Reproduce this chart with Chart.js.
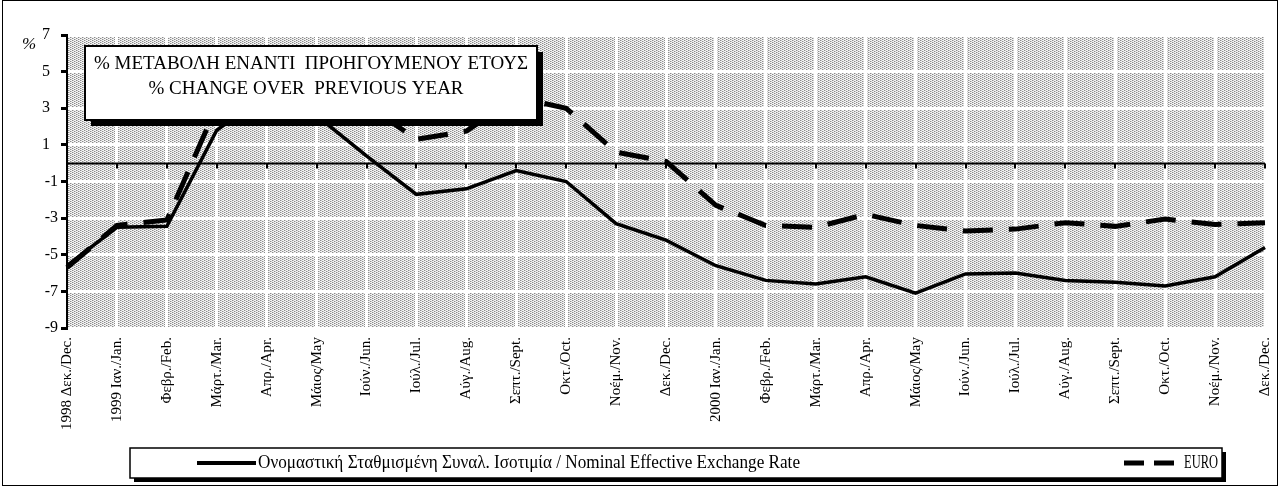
<!DOCTYPE html>
<html>
<head>
<meta charset="utf-8">
<script src="https://cdn.jsdelivr.net/npm/chart.js@4.4.1/dist/chart.umd.min.js"></script>
<style>
  html, body { margin: 0; padding: 0; background: #fff; }
  #wrap { width: 1279px; height: 486px; position: relative; }
</style>
</head>
<body>
<div id="wrap"><canvas id="chart" width="1279" height="486"></canvas></div>
<script>
const monthLabels = [
  "1998 Δεκ./Dec.", "1999 Ιαν./Jan.", "Φεβρ./Feb.", "Μάρτ./Mar.", "Απρ./Apr.", "Μάιος/May",
  "Ιούν./Jun.", "Ιούλ./Jul.", "Αύγ./Aug.", "Σεπτ./Sept.", "Οκτ./Oct.", "Νοέμ./Nov.", "Δεκ./Dec.",
  "2000 Ιαν./Jan.", "Φεβρ./Feb.", "Μάρτ./Mar.", "Απρ./Apr.", "Μάιος/May", "Ιούν./Jun.",
  "Ιούλ./Jul.", "Αύγ./Aug.", "Σεπτ./Sept.", "Οκτ./Οct.", "Νοέμ./Nov.", "Δεκ./Dec.",
];

const nominalRate = [
  -5.6, -3.5, -3.45, 1.8, 3.8, 2.6, 0.4, -1.7, -1.4, -0.4, -1.0, -3.3, -4.2,
  -5.6, -6.4, -6.6, -6.2, -7.1, -6.05, -6.0, -6.4, -6.5, -6.7, -6.2, -4.6,
];

const euroRate = [
  -5.7, -3.4, -3.1, 3.1, 4.4, 4.0, 3.2, 1.3, 1.75, 3.6, 3.0, 0.6, 0.1,
  -2.3, -3.4, -3.5, -2.8, -3.4, -3.7, -3.6, -3.25, -3.45, -3.05, -3.35, -3.25,
];

const yMin = -9;
const yMax = 7;
const yStep = 2;

const titleLines = ["% ΜΕΤΑΒΟΛΗ ΕΝΑΝΤΙ  ΠΡΟΗΓΟΥΜΕΝΟΥ ΕΤΟΥΣ", "% CHANGE OVER  PREVIOUS YEAR"];
const legendNominal = "Ονομαστική Σταθμισμένη Συναλ. Ισοτιμία / Nominal Effective Exchange Rate";
const legendEuro = "EURO";

const serif = "'Liberation Serif', 'DejaVu Serif', serif";

// small staggered dot texture like the printed original
const makePattern = (ctx) => {
  const p = document.createElement("canvas");
  p.width = 4;
  p.height = 2;
  const pc = p.getContext("2d");
  pc.fillStyle = "#f4f4f4";
  pc.fillRect(0, 0, 4, 2);
  pc.fillStyle = "#8c8c8c";
  pc.fillRect(0, 0, 1, 1);
  pc.fillRect(2, 1, 1, 1);
  pc.fillStyle = "#c8c8c8";
  pc.fillRect(1, 0, 1, 1);
  pc.fillRect(3, 1, 1, 1);
  return ctx.createPattern(p, "repeat");
};

const decorations = {
  id: "decorations",
  beforeDraw: (chart) => {
    const { ctx, chartArea: a } = chart;
    ctx.save();
    ctx.fillStyle = "#fff";
    ctx.fillRect(0, 0, chart.width, chart.height);
    ctx.fillStyle = makePattern(ctx);
    ctx.fillRect(a.left, a.top, a.right - a.left, a.bottom - a.top);
    ctx.restore();
  },
  beforeDatasetsDraw: (chart) => {
    const { ctx, chartArea: a, scales } = chart;
    const y0 = Math.round(scales.y.getPixelForValue(0)) + 0.5;
    ctx.save();
    ctx.strokeStyle = "#000";
    ctx.lineWidth = 2;
    ctx.beginPath();
    ctx.moveTo(a.left, y0);
    ctx.lineTo(a.right, y0);
    monthLabels.forEach((_, i) => {
      const x = Math.round(scales.x.getPixelForValue(i));
      ctx.moveTo(x, y0);
      ctx.lineTo(x, y0 + 5);
    });
    ctx.stroke();
    ctx.restore();
  },
  afterDraw: (chart) => {
    const { ctx } = chart;
    ctx.save();

    // title box
    ctx.fillStyle = "#000";
    ctx.fillRect(91, 52, 452, 74);
    ctx.fillStyle = "#fff";
    ctx.fillRect(85, 46, 452, 74);
    ctx.strokeStyle = "#000";
    ctx.lineWidth = 2;
    ctx.strokeRect(85, 46, 452, 74);
    ctx.fillStyle = "#000";
    ctx.font = `19px ${serif}`;
    ctx.textAlign = "center";
    ctx.textBaseline = "middle";
    ctx.fillText(titleLines[0], 311, 64, 440);
    ctx.fillText(titleLines[1], 306, 89);

    // legend box
    ctx.fillStyle = "#000";
    ctx.fillRect(134, 452, 1092, 30);
    ctx.fillStyle = "#fff";
    ctx.fillRect(130, 448, 1092, 30);
    ctx.lineWidth = 1.5;
    ctx.strokeRect(130, 448, 1092, 30);

    ctx.strokeStyle = "#000";
    ctx.lineWidth = 4;
    ctx.beginPath();
    ctx.moveTo(197, 463);
    ctx.lineTo(256, 463);
    ctx.stroke();

    ctx.lineWidth = 5;
    ctx.setLineDash([20, 10]);
    ctx.beginPath();
    ctx.moveTo(1124, 463);
    ctx.lineTo(1174, 463);
    ctx.stroke();
    ctx.setLineDash([]);

    ctx.fillStyle = "#000";
    ctx.font = `19px ${serif}`;
    ctx.textAlign = "left";
    ctx.textBaseline = "middle";
    ctx.fillText(legendNominal, 258, 463, 542);
    ctx.fillText(legendEuro, 1184, 463, 34);

    // % sign
    ctx.font = `italic 17px ${serif}`;
    ctx.fillText("%", 22, 45);

    // outer frame
    ctx.lineWidth = 1;
    ctx.strokeRect(2.5, 0.5, 1275, 485);
    ctx.restore();
  },
};

const ctx = document.getElementById("chart").getContext("2d");
new Chart(ctx, {
  type: "line",
  data: {
    labels: monthLabels,
    datasets: [
      {
        label: legendNominal,
        data: nominalRate,
        borderColor: "#000",
        borderWidth: 3.5,
        pointRadius: 0,
        tension: 0,
      },
      {
        label: legendEuro,
        data: euroRate,
        borderColor: "#000",
        borderWidth: 5,
        borderDash: [30, 16],
        pointRadius: 0,
        tension: 0,
      },
    ],
  },
  options: {
    responsive: false,
    animation: false,
    devicePixelRatio: 1,
    layout: { padding: { top: 35, right: 14, left: 0, bottom: 0 } },
    plugins: {
      legend: { display: false },
      tooltip: { enabled: false },
    },
    scales: {
      x: {
        offset: false,
        afterFit: (scale) => {
          scale.height = 158;
          scale.paddingLeft = 0;
          scale.paddingRight = 0;
        },
        grid: {
          color: (c) => (c.index === 0 ? "rgba(0,0,0,0)" : "#fff"),
          lineWidth: 3,
          drawTicks: false,
        },
        border: { display: false },
        ticks: {
          autoSkip: false,
          minRotation: 90,
          maxRotation: 90,
          padding: 9,
          color: "#000",
          font: { family: serif, size: 15 },
        },
      },
      y: {
        min: yMin,
        max: yMax,
        afterFit: (scale) => {
          scale.width = 67;
          scale.paddingTop = 0;
          scale.paddingBottom = 0;
        },
        grid: {
          color: "#fff",
          lineWidth: 3,
          tickColor: "#000",
          tickLength: 6,
          drawTicks: true,
        },
        border: { color: "#000", width: 2 },
        ticks: {
          stepSize: yStep,
          padding: 3,
          color: "#000",
          font: { family: serif, size: 16 },
          callback: (v) => (v > 0 ? `${v}\u2007` : `${v}`),
        },
      },
    },
  },
  plugins: [decorations],
});
</script>
</body>
</html>
